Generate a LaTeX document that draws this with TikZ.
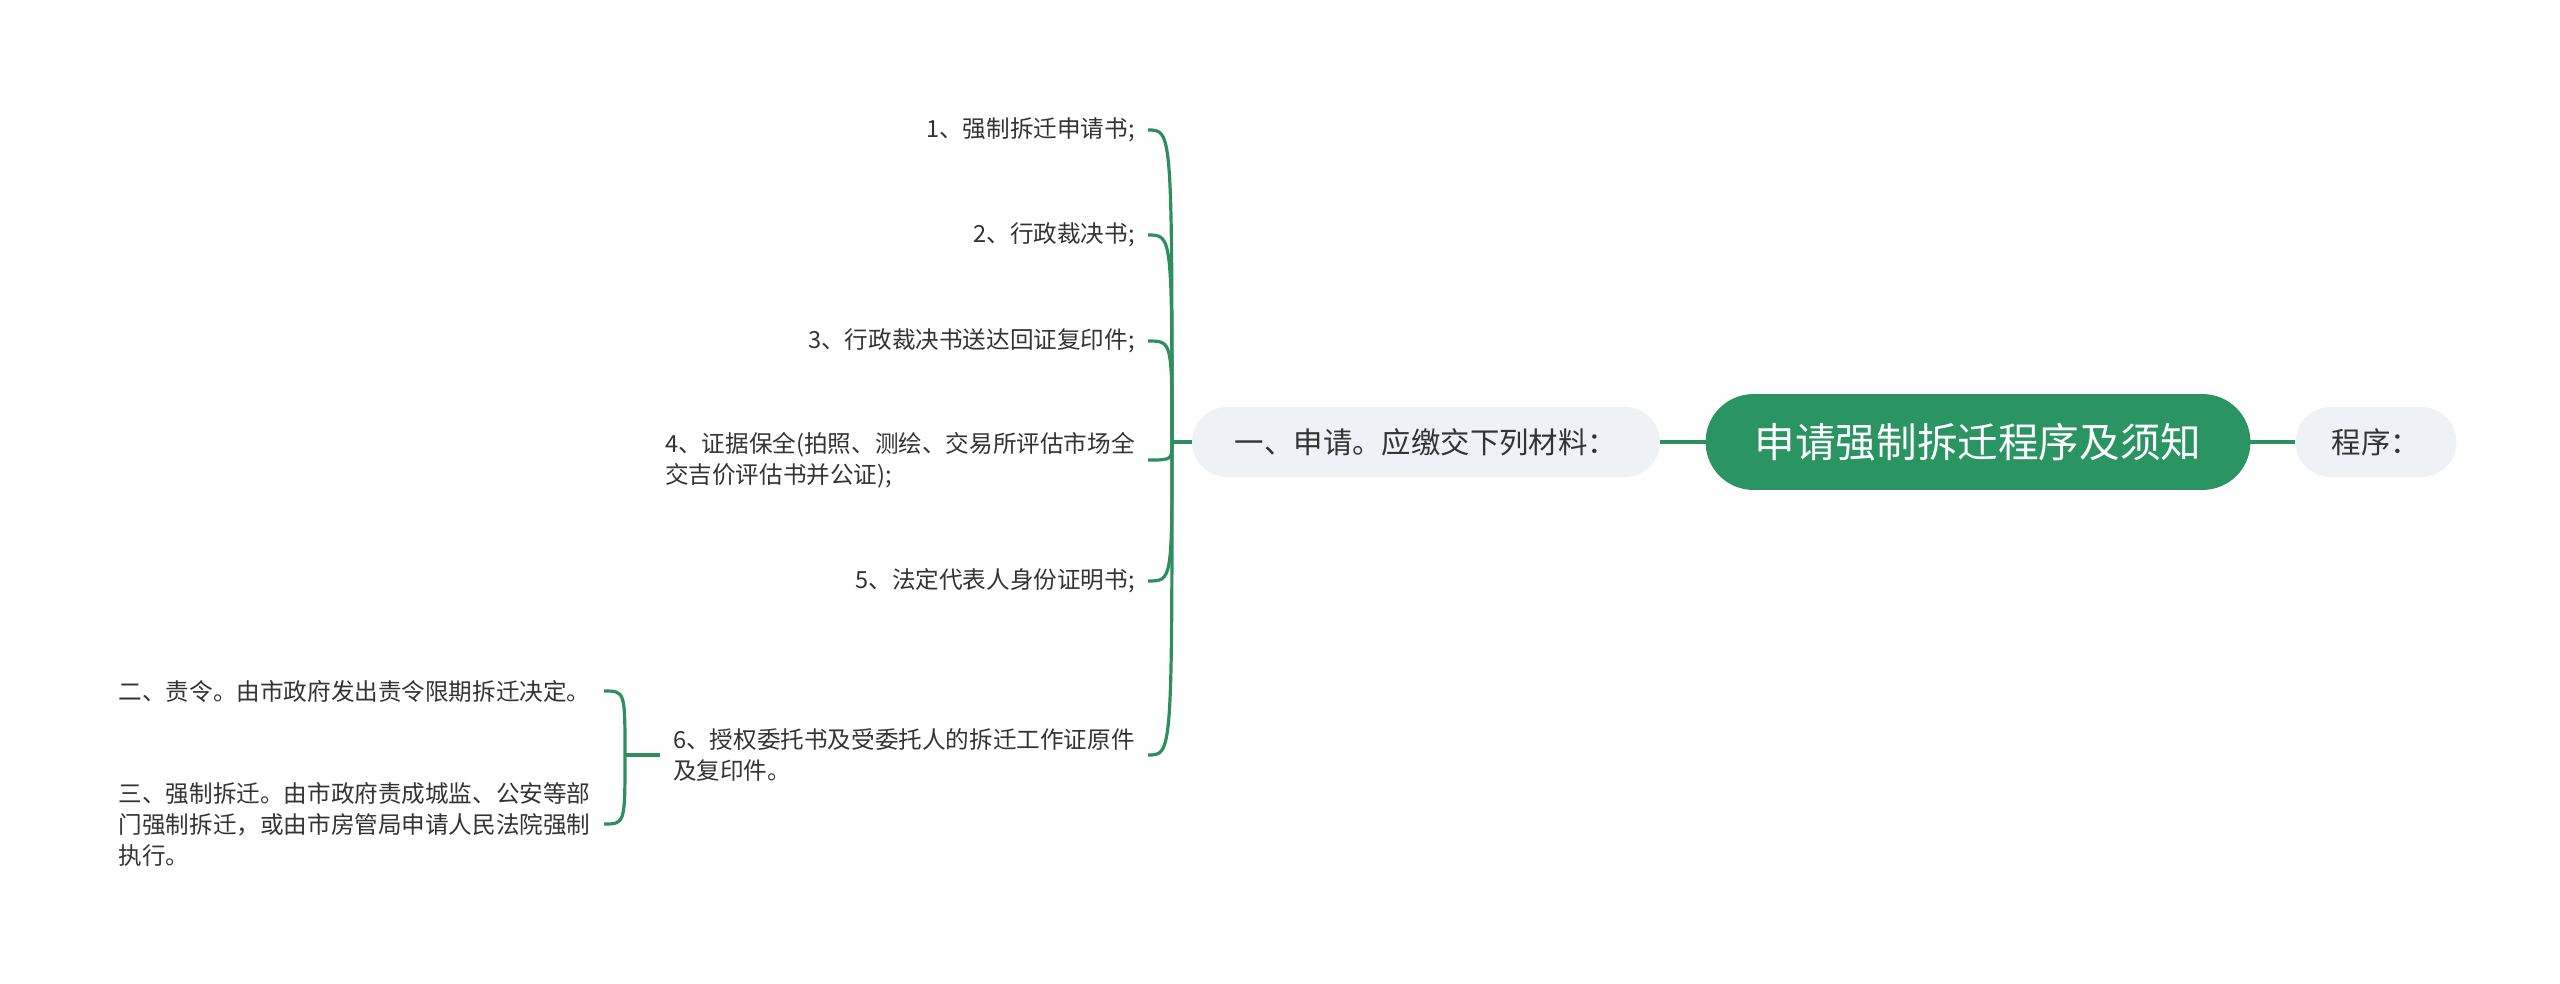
\documentclass[tikz,border=0pt]{standalone}
\usepackage{fontspec}
\newfontfamily\cjk{Noto Sans CJK SC}
\usetikzlibrary{calc}
\definecolor{mapgreen}{HTML}{2A9563}
\definecolor{linkgreen}{HTML}{2E8E60}
\definecolor{subfill}{HTML}{EEF1F5}
\definecolor{txt}{HTML}{333333}

\tikzset{
  root/.style={rounded corners=23.7pt, fill=mapgreen, draw=linkgreen, text=white,
    minimum width=272pt, minimum height=47.5pt, font=\cjk\fontsize{20.3pt}{24pt}\selectfont},
  sub/.style={rounded corners=17.5pt, fill=subfill, text=txt,
    minimum height=35pt, font=\cjk\fontsize{14.7pt}{18pt}\selectfont},
  leaf/.style={anchor=east, inner xsep=6.5pt, inner ysep=2pt, text=txt, align=left,
    font=\cjk\fontsize{11.8pt}{15.5pt}\selectfont},
  link/.style={draw=linkgreen, line width=1.6pt},
}

\begin{document}
\begin{tikzpicture}[x=0.5pt,y=-0.5pt]
    \useasboundingbox (0,0) rectangle (2560,984);

    \node[root] (root) at (1978,442) {申请强制拆迁程序及须知};
    \node[sub, minimum width=234pt] (apply) at (1426,442) {一、申请。应缴交下列材料：};
    \node[sub, minimum width=80.5pt] (proc) at (2376,442) {程序：};

    \draw[link] (apply.east) -- (root.west);
    \draw[link] (root.east) -- (proc.west);

    % materials
    \coordinate (ja) at (1172,442);
    \node[leaf] (c1) at (1148,130) {1、强制拆迁申请书;};
    \node[leaf] (c2) at (1148,235) {2、行政裁决书;};
    \node[leaf] (c3) at (1148,341) {3、行政裁决书送达回证复印件;};
    \node[leaf] (c4) at (1148,460) {4、证据保全(拍照、测绘、交易所评估市场全\\交吉价评估书并公证);};
    \node[leaf] (c5) at (1148,581) {5、法定代表人身份证明书;};
    \node[leaf] (c6) at (1148,755) {6、授权委托书及受委托人的拆迁工作证原件\\及复印件。};

    \draw[link] (apply.west) -- (ja);
    \foreach \i in {1,...,6}
      \draw[link] (ja) .. controls (ja |- c\i.east) and (ja |- c\i.east) .. (c\i.east);

    % steps after 6
    \coordinate (jb) at (625,755);
    \node[leaf, text width=236pt] (order) at (604,691) {二、责令。由市政府发出责令限期拆迁决定。};
    \node[leaf, text width=236pt] (force) at (604,824) {三、强制拆迁。由市政府责成城监、公安等部\\门强制拆迁，或由市房管局申请人民法院强制\\执行。};

    \draw[link] (c6.west) -- (jb);
    \foreach \n in {order,force}
      \draw[link] (jb) .. controls (jb |- \n.east) and (jb |- \n.east) .. (\n.east);
\end{tikzpicture}
\end{document}
